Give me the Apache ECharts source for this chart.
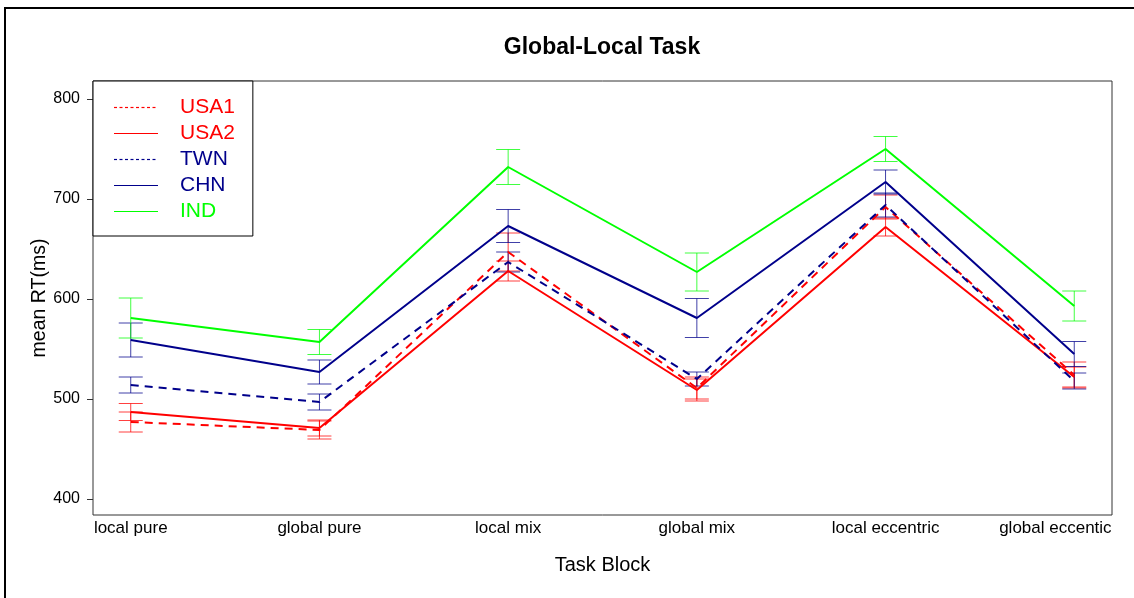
<!DOCTYPE html>
<html>
<head>
<meta charset="utf-8">
<script src="https://cdn.jsdelivr.net/npm/echarts@6/dist/echarts.min.js"></script>
<style>
  html, body { margin: 0; padding: 0; background: #fff; }
  #chart { width: 1134px; height: 598px; }
</style>
</head>
<body>
<div id="chart"></div>
<script>
// ---- data ----
const categories = ['local pure', 'global pure', 'local mix', 'global mix', 'local eccentric', 'global eccentic'];
const yTicks = [400, 500, 600, 700, 800];

const usa1Mean = [477, 469, 647, 511, 692, 524];
const usa1Err  = [10, 9, 19, 11, 12, 13];
const usa2Mean = [487, 471, 628, 509, 672, 522];
const usa2Err  = [8.5, 8, 10, 11, 9, 10];
const twnMean  = [514, 497, 637, 520, 694, 518];
const twnErr   = [8, 8, 10, 7, 12, 8];
const chnMean  = [559, 527, 673, 581, 717, 545];
const chnErr   = [17, 12, 16.5, 19.5, 12, 12.5];
const indMean  = [581, 557, 732, 627, 750, 593];
const indErr   = [20, 12.5, 17.5, 19, 12.5, 15];

const groups = [
  { name: 'USA1', mean: usa1Mean, err: usa1Err, color: '#FF0000', dashed: true,  key: 'red' },
  { name: 'USA2', mean: usa2Mean, err: usa2Err, color: '#FF0000', dashed: false, key: 'red' },
  { name: 'TWN',  mean: twnMean,  err: twnErr,  color: '#00008B', dashed: true,  key: 'navy' },
  { name: 'CHN',  mean: chnMean,  err: chnErr,  color: '#00008B', dashed: false, key: 'navy' },
  { name: 'IND',  mean: indMean,  err: indErr,  color: '#00FF00', dashed: false, key: 'green' }
];

const FONT = '"Liberation Sans", Arial, sans-serif';
const xPos = categories.map((c, i) => i + 1);
// label anchor positions (last label is pulled inside the frame, as in the original)
const xLabelPos = xPos.map((v, i) => (i === xPos.length - 1 ? v - 0.1 : v));

const series = [];
groups.forEach(g => {
  series.push({
    name: g.name,
    type: 'line',
    data: g.mean.map((v, i) => [xPos[i], v]),
    symbol: 'none',
    itemStyle: { color: g.color },
    lineStyle: { color: g.color, width: 2, type: g.dashed ? [8, 6] : 'solid' },
    z: 3,
    animation: false
  });
  series.push({
    name: g.name + ' error',
    type: 'custom',
    itemStyle: { color: g.color },
    data: g.mean.map((v, i) => [xPos[i], v - g.err[i], v + g.err[i]]),
    renderItem: function (params, api) {
      const lo = api.coord([api.value(0), api.value(1)]);
      const hi = api.coord([api.value(0), api.value(2)]);
      const hw = 12;
      const st = { stroke: g.color, lineWidth: 1, opacity: 0.75 };
      return {
        type: 'group',
        children: [
          { type: 'line', shape: { x1: hi[0], y1: hi[1], x2: lo[0], y2: lo[1] }, style: st },
          { type: 'line', shape: { x1: hi[0] - hw, y1: hi[1], x2: hi[0] + hw, y2: hi[1] }, style: st },
          { type: 'line', shape: { x1: lo[0] - hw, y1: lo[1], x2: lo[0] + hw, y2: lo[1] }, style: st }
        ]
      };
    },
    encode: { x: 0, y: [1, 2] },
    z: 2,
    animation: false
  });
});

// rich-text styles for legend samples (thin solid / dashed strokes) and names
const legendRich = { gap: { width: 2.5, height: 1 }, sp: { width: 22, height: 1 } };
[['red', '#FF0000'], ['navy', '#00008B'], ['green', '#00FF00']].forEach(([k, c]) => {
  legendRich[k + 'Line'] = { width: 44, height: 1.2, backgroundColor: c, verticalAlign: 'middle' };
  legendRich[k + 'Dash'] = { width: 3, height: 1.2, backgroundColor: c, verticalAlign: 'middle' };
  legendRich[k + 'Txt'] = { color: c, fontFamily: FONT, fontSize: 21, lineHeight: 21, verticalAlign: 'middle' };
});
function legendLabel(name) {
  const g = groups.find(x => x.name === name);
  const sample = g.dashed ? ('{' + g.key + 'Dash|}{gap|}').repeat(8) : '{' + g.key + 'Line|}';
  return sample + '{sp|}{' + g.key + 'Txt|' + name + '}';
}

const chart = echarts.init(document.getElementById('chart'), null, { renderer: 'canvas' });
chart.setOption({
  backgroundColor: '#fff',
  animation: false,
  title: {
    text: 'Global-Local Task',
    left: 602, textAlign: 'center',
    top: 36,
    padding: 0,
    textStyle: { fontFamily: FONT, fontWeight: 'bold', fontSize: 23, color: '#000' }
  },
  graphic: [{
    type: 'rect',
    shape: { x: 5, y: 8, width: 1140, height: 600 },
    style: { fill: 'none', stroke: '#000', lineWidth: 2 },
    silent: true, z: -1
  }],
  legend: {
    left: 93, top: 81,
    orient: 'vertical',
    data: groups.map(g => g.name),
    icon: 'rect',
    itemWidth: 0, itemHeight: 0,
    itemStyle: { opacity: 0 },
    itemGap: 5,
    padding: [16, 18, 14, 16],
    backgroundColor: '#fff',
    borderColor: '#000', borderWidth: 1, borderRadius: 0,
    formatter: legendLabel,
    textStyle: { fontFamily: FONT, fontSize: 21, lineHeight: 21, rich: legendRich },
    selectedMode: false,
    z: 10
  },
  grid: {
    left: 93, top: 81, width: 1019, height: 434,
    show: true, borderColor: '#333', borderWidth: 1, backgroundColor: 'transparent'
  },
  xAxis: {
    type: 'value',
    min: 0.8, max: 6.2,
    name: 'Task Block',
    nameLocation: 'middle',
    nameGap: 40,
    nameTextStyle: { fontFamily: FONT, fontSize: 20, color: '#000' },
    axisLine: { show: false },
    axisTick: { show: false },
    splitLine: { show: false },
    axisLabel: {
      customValues: xLabelPos,
      formatter: v => categories[Math.round(v) - 1] || '',
      fontFamily: FONT, fontSize: 17, color: '#000', margin: 5
    }
  },
  yAxis: {
    type: 'value',
    min: 384, max: 818,
    name: 'mean RT(ms)',
    nameLocation: 'middle',
    nameGap: 43,
    nameMoveOverlap: false,
    nameRotate: 90,
    nameTextStyle: { fontFamily: FONT, fontSize: 19.5, color: '#000' },
    axisLine: { show: false },
    axisTick: { show: true, length: 6, customValues: yTicks, lineStyle: { color: '#333' } },
    splitLine: { show: false },
    axisLabel: {
      customValues: yTicks,
      fontFamily: FONT, fontSize: 16, color: '#000', margin: 13
    }
  },
  series: series
});
</script>
</body>
</html>
